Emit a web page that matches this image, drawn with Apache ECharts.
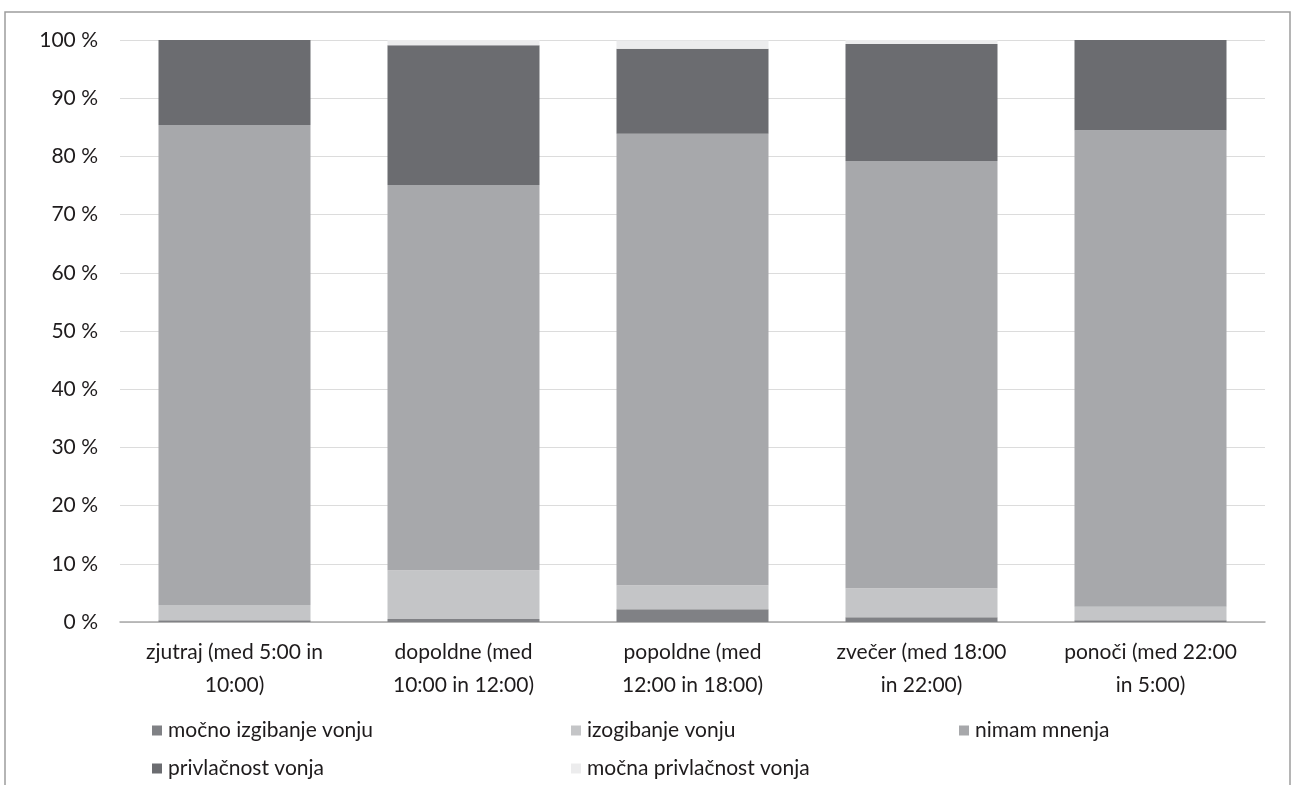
<!DOCTYPE html>
<html>
<head>
<meta charset="utf-8">
<script src="https://cdn.jsdelivr.net/npm/echarts@6/dist/echarts.min.js"></script>
<style>
  html, body { margin: 0; padding: 0; background: #ffffff; }
  #chart { width: 1292px; height: 785px; }
</style>
</head>
<body>
<div id="chart"></div>
<script>
// Time-of-day categories (x axis)
const categories = [
  'zjutraj (med 5:00 in\n10:00)',
  'dopoldne (med\n10:00 in 12:00)',
  'popoldne (med\n12:00 in 18:00)',
  'zvečer (med 18:00\nin 22:00)',
  'ponoči (med 22:00\nin 5:00)'
];

// Shares of responses per category, in percent (stacked bottom to top)
const mocnoIzgibanje   = [0.3, 0.5, 2.2, 0.8, 0.3];
const izogibanje       = [2.6, 8.4, 4.1, 5.0, 2.3];
const nimamMnenja      = [82.5, 66.2, 77.6, 73.4, 81.9];
const privlacnost      = [14.6, 24.0, 14.6, 20.1, 15.5];
const mocnaPrivlacnost = [0.0, 0.9, 1.4, 0.7, 0.0];

const yTicks = [0, 10, 20, 30, 40, 50, 60, 70, 80, 90, 100];

const seriesNames = [
  'močno izgibanje vonju',
  'izogibanje vonju',
  'nimam mnenja',
  'privlačnost vonja',
  'močna privlačnost vonja'
];
const seriesData = [mocnoIzgibanje, izogibanje, nimamMnenja, privlacnost, mocnaPrivlacnost];
const seriesColors = ['#808185', '#c4c5c7', '#a7a8ab', '#6b6c70', '#ececed'];

const FONT = 'Lato';
const TEXT = '#1e1b1c';
const FS = 21;

const legendText = { fontFamily: FONT, fontSize: FS, color: TEXT, padding: [0, 0, 0, 1] };
function legendColumn(left, names) {
  return {
    orient: 'vertical',
    left: left,
    top: 715,
    itemWidth: 10,
    itemHeight: 10,
    itemGap: 17,
    icon: 'rect',
    selectedMode: false,
    textStyle: legendText,
    data: names
  };
}

const chart = echarts.init(document.getElementById('chart'), null, { renderer: 'canvas' });
chart.setOption({
  backgroundColor: '#ffffff',
  animation: false,
  graphic: [{
    type: 'rect',
    shape: { x: 5, y: 12, width: 1285, height: 800 },
    style: { fill: 'none', stroke: '#9d9d9d', lineWidth: 1.5 },
    silent: true
  }],
  legend: [
    legendColumn(147, [seriesNames[0], seriesNames[3]]),
    legendColumn(566, [seriesNames[1], seriesNames[4]]),
    legendColumn(954, [seriesNames[2]])
  ],
  grid: { left: 120, right: 27, top: 40, bottom: 163, containLabel: false },
  xAxis: {
    type: 'category',
    data: categories,
    axisLine: { show: true, lineStyle: { color: '#a9a9a9', width: 1.5 } },
    axisTick: { show: false },
    axisLabel: {
      fontFamily: FONT, fontSize: FS, color: TEXT,
      lineHeight: 33, margin: 14, interval: 0
    }
  },
  yAxis: {
    type: 'value',
    min: 0,
    max: 100,
    interval: 10,
    axisLine: { show: false },
    axisTick: { show: false },
    splitLine: { show: true, lineStyle: { color: '#dcdcdc', width: 1 } },
    axisLabel: {
      fontFamily: FONT, fontSize: FS, color: TEXT, margin: 22,
      formatter: v => (yTicks.includes(v) ? v + ' %' : '')
    }
  },
  series: seriesNames.map((name, i) => ({
    name: name,
    type: 'bar',
    stack: 'total',
    barWidth: 152,
    itemStyle: { color: seriesColors[i] },
    data: seriesData[i]
  }))
});
</script>
</body>
</html>
